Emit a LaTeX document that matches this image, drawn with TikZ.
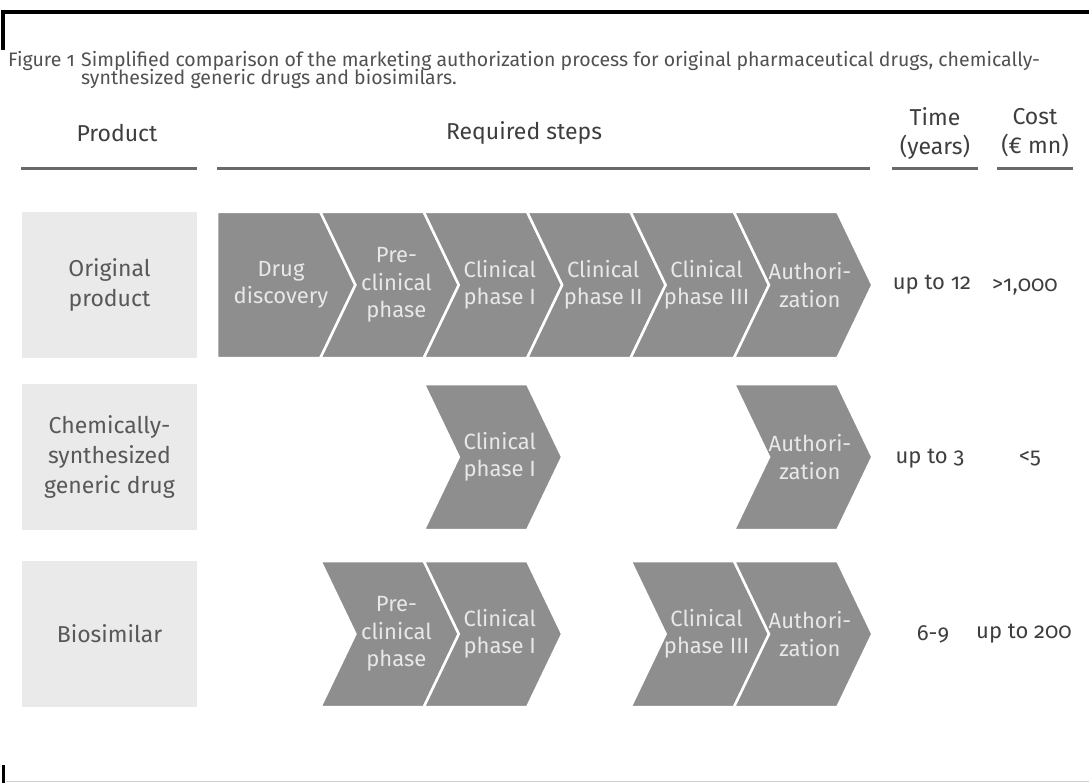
\documentclass[tikz,border=0pt]{standalone}
\usepackage{fontspec}
\setmainfont{Fira Sans}[Numbers=OldStyle]
\usetikzlibrary{calc}

\definecolor{chevgray}{RGB}{142,142,142}
\definecolor{chevtext}{RGB}{232,232,232}
\definecolor{boxgray}{RGB}{234,234,234}
\definecolor{labelgray}{RGB}{88,88,88}
\definecolor{headgray}{RGB}{62,62,62}
\definecolor{rulegray}{RGB}{105,105,105}

% one step of a row: #1 column, #2 top of row, #3 node name, #4 text
\newcommand{\stepchev}[4]{
  \fill[chevshape] ($(217,#2)+(#1*103.4,0)$) -- ++(103.4,0) -- ++(35,73)
    -- ++(-35,73) -- ++(-103.4,0) -- ++(35,-73) -- cycle;
  \node[chevlabel] (#3) at ($(217+76,#2+73)+(#1*103.4,0)$) {#4};
}

\begin{document}
\begin{tikzpicture}[x=1pt,y=-1pt,
  chevshape/.style={fill=chevgray, draw=white, line width=2.5pt, line join=miter},
  chevlabel/.style={text=chevtext, align=center, inner sep=0pt,
    font=\fontsize{22}{27.5}\selectfont},
  prodbox/.style={fill=boxgray, minimum width=175pt, minimum height=146pt,
    text=labelgray, align=center, inner sep=0pt, font=\fontsize{23}{30}\selectfont},
  colhead/.style={text=headgray, align=center, inner sep=0pt,
    font=\fontsize{23}{29}\selectfont},
  colrule/.style={rulegray, line width=3pt},
  cellval/.style={text=headgray, inner sep=0pt, font=\fontsize{22}{27}\selectfont},
  captext/.style={text=headgray!90, anchor=base west, inner sep=0pt,
    font=\fontsize{19.5}{19.5}\selectfont}]
\useasboundingbox (0,0) rectangle (1089,783);

% frame
\draw[line width=4pt] (3,50) -- (3,12) -- (1089,12);
\draw[line width=3pt] (3,765) -- (3,783);
\draw[black!18, line width=1pt] (6,781) -- (1089,781);

% caption
\node[captext] (figno) at (8,67) {Figure 1};
\node[captext] (cap1) at (81,67) {Simplified comparison of the marketing authorization process for original pharmaceutical drugs, chemically-};
\node[captext] (cap2) at (81,85) {synthesized generic drugs and biosimilars.};

% column heads
\node[colhead] (hprod) at (117,133) {Product};
\node[colhead] (hsteps) at (524,133) {Required steps};
\node[colhead] (htime) at (935,133) {Time\\(years)};
\node[colhead] (hcost) at (1035,133) {Cost\\(€ mn)};
\draw[colrule] (21,169) -- (197,169);
\draw[colrule] (217,169) -- (870,169);
\draw[colrule] (892,169) -- (978,169);
\draw[colrule] (997,169) -- (1073,169);

% products
\node[prodbox] (orig) at (109.5,285) {Original\\product};
\node[prodbox] (generic) at (109.5,457) {Chemically-\\synthesized\\generic drug};
\node[prodbox] (biosim) at (109.5,634) {Biosimilar};

% original product
\fill[chevshape] (217,212) -- ++(103.4,0) -- ++(35,73) -- ++(-35,73) -- ++(-103.4,0) -- cycle;
\node[chevlabel] (odisc) at (281,285) {Drug\\discovery};
\stepchev{1}{212}{opre}{Pre-\\clinical\\phase}
\stepchev{2}{212}{ocl1}{Clinical\\phase I}
\stepchev{3}{212}{ocl2}{Clinical\\phase II}
\stepchev{4}{212}{ocl3}{Clinical\\phase III}
\stepchev{5}{212}{oauth}{Authori-\\zation}

% generic drug
\stepchev{2}{384}{gcl1}{Clinical\\phase I}
\stepchev{5}{384}{gauth}{Authori-\\zation}

% biosimilar
\stepchev{1}{561}{bpre}{Pre-\\clinical\\phase}
\stepchev{2}{561}{bcl1}{Clinical\\phase I}
\stepchev{4}{561}{bcl3}{Clinical\\phase III}
\stepchev{5}{561}{bauth}{Authori-\\zation}

% time and cost
\node[cellval] (otime) at (932,285) {up to 12};
\node[cellval] (ocost) at (1025,287) {>1,000};
\node[cellval] (gtime) at (930,459) {up to 3};
\node[cellval] (gcost) at (1030,459) {<5};
\node[cellval] (btime) at (933,634) {6-9};
\node[cellval] (bcost) at (1024,634) {up to 200};
\end{tikzpicture}
\end{document}
